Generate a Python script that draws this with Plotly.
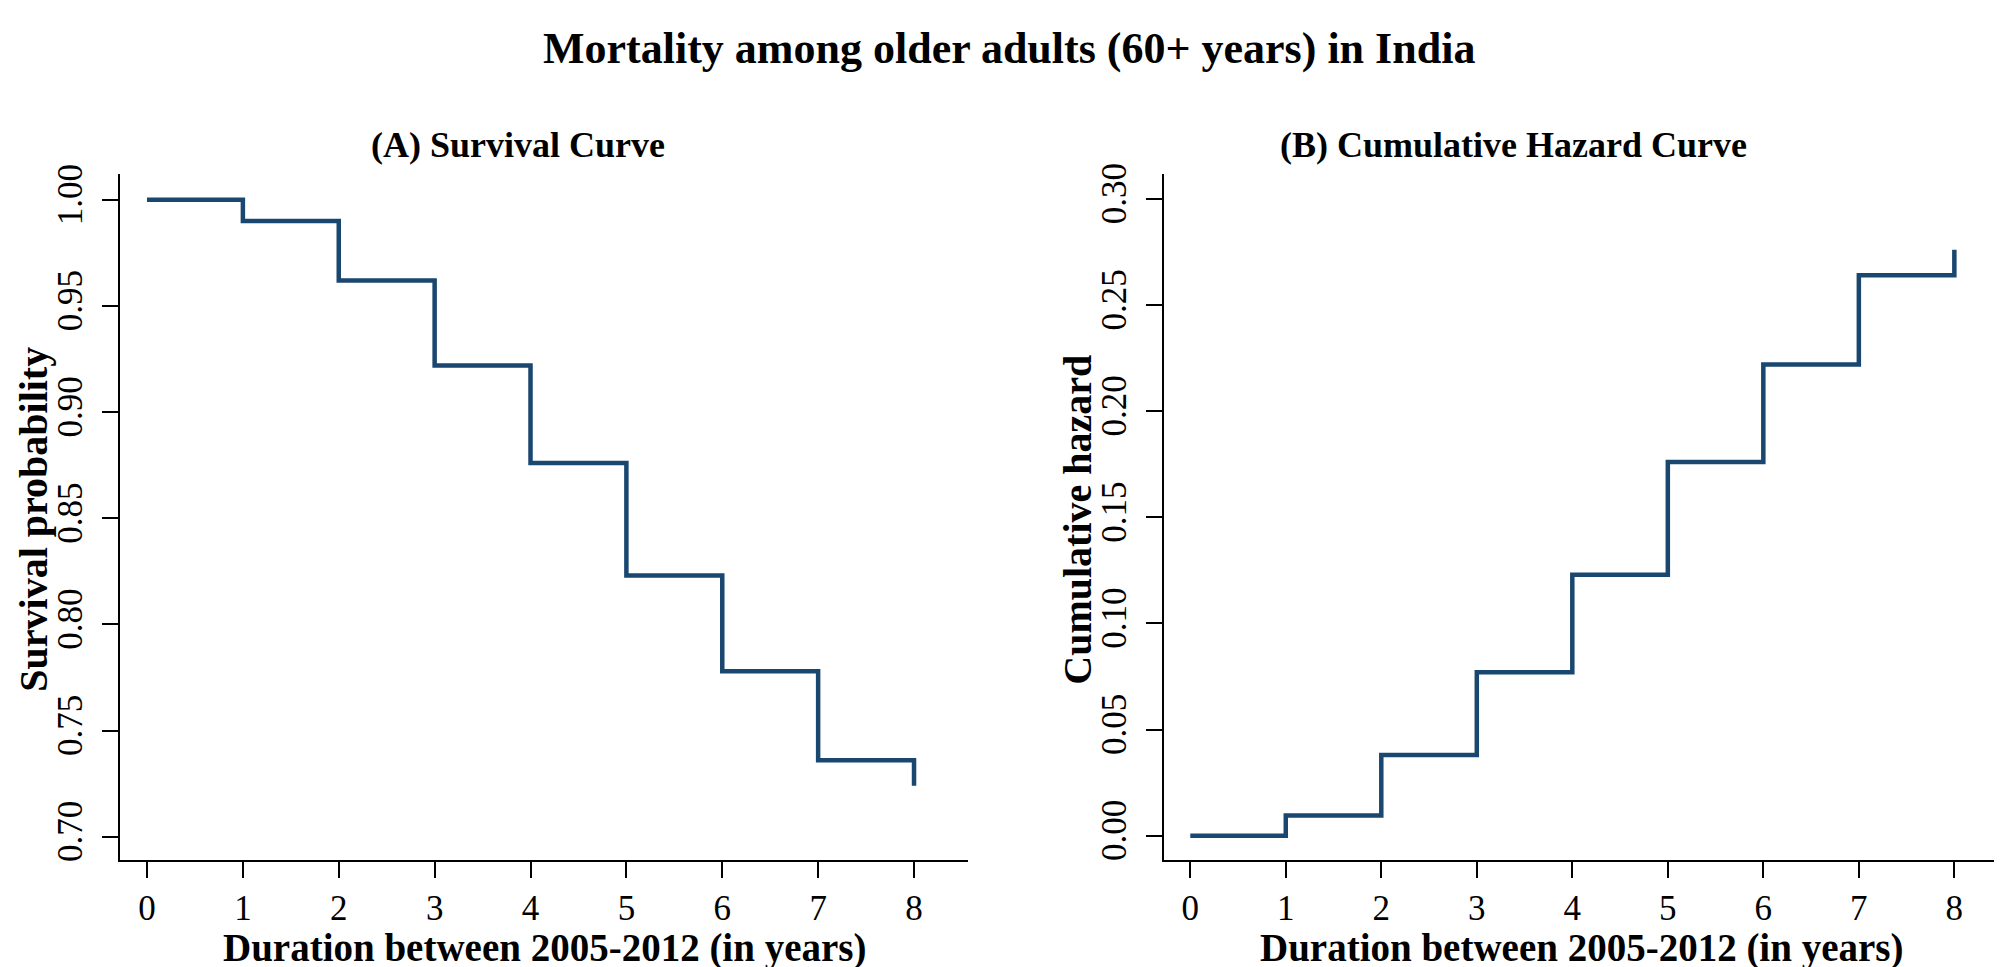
import plotly.graph_objects as go

# ---- data ----
years = [0, 1, 2, 3, 4, 5, 6, 7, 8]
survival = [1.000, 0.990, 0.962, 0.922, 0.876, 0.823, 0.778, 0.736, 0.724]
cum_hazard = [0.000, 0.0095, 0.038, 0.077, 0.123, 0.176, 0.222, 0.264, 0.276]
surv_ticks = [0.70, 0.75, 0.80, 0.85, 0.90, 0.95, 1.00]
surv_ticktext = ["0.70", "0.75", "0.80", "0.85", "0.90", "0.95", "1.00"]
haz_ticks = [0.00, 0.05, 0.10, 0.15, 0.20, 0.25, 0.30]
haz_ticktext = ["0.00", "0.05", "0.10", "0.15", "0.20", "0.25", "0.30"]
x_ticks = [0, 1, 2, 3, 4, 5, 6, 7, 8]

main_title = "Mortality among older adults (60+ years) in India"
title_a = "(A) Survival Curve"
title_b = "(B) Cumulative Hazard Curve"
x_title = "Duration between 2005-2012 (in years)"
y_title_a = "Survival probability"
y_title_b = "Cumulative hazard"

# ---- styling ----
W, H = 2002, 967
NAVY = "#1a476f"
FONT = "Liberation Serif"


def fx(p):
    return p / W


def fy(p):
    return 1 - p / H


fig = go.Figure()
fig.add_trace(go.Scatter(x=years, y=survival, mode="lines",
                         line=dict(shape="hv", color=NAVY, width=4.5),
                         xaxis="x", yaxis="y", showlegend=False, hoverinfo="x+y"))
fig.add_trace(go.Scatter(x=years, y=cum_hazard, mode="lines",
                         line=dict(shape="hv", color=NAVY, width=4.5),
                         xaxis="x2", yaxis="y2", showlegend=False, hoverinfo="x+y"))

tickfont = dict(family=FONT, size=35, color="black")
common_x = dict(tickvals=x_ticks, showline=True, linecolor="black", linewidth=2,
                ticks="outside", ticklen=16, tickwidth=2, tickcolor="black",
                showgrid=False, zeroline=False, tickfont=tickfont, fixedrange=True)
common_y = dict(showline=True, linecolor="black", linewidth=2,
                ticks="outside", ticklen=16, tickwidth=2, tickcolor="black",
                showgrid=False, zeroline=False, tickfont=tickfont, tickangle=-90,
                fixedrange=True, ticklabelstandoff=6)

y_dom = [fy(852), fy(157)]

fig.update_layout(
    width=W, height=H,
    margin=dict(l=0, r=0, t=0, b=0),
    paper_bgcolor="white", plot_bgcolor="white",
    xaxis=dict(domain=[fx(112), fx(960)], range=[-0.2816, 8.563], anchor="y", **common_x),
    yaxis=dict(domain=y_dom, range=[0.68884, 1.01214], anchor="x",
               tickvals=surv_ticks, ticktext=surv_ticktext, **common_y),
    xaxis2=dict(domain=[fx(1156), fx(1990)], range=[-0.275, 8.457], anchor="y2", **common_x),
    yaxis2=dict(domain=y_dom, range=[-0.01163, 0.3117], anchor="x2",
                tickvals=haz_ticks, ticktext=haz_ticktext, **common_y),
)

bold = dict(family=FONT, color="black", weight="bold")
ann = [
    dict(text=main_title, x=0.5, y=fy(30), font=dict(size=44, **bold)),
    dict(text=title_a, x=fx(510), y=fy(128), font=dict(size=36, **bold)),
    dict(text=title_b, x=fx(1505), y=fy(128), font=dict(size=36, **bold)),
    dict(text=x_title, x=fx(536), y=fy(941), font=dict(size=39, **bold)),
    dict(text=x_title, x=fx(1573), y=fy(941), font=dict(size=39, **bold)),
    dict(text=y_title_a, x=fx(26), y=fy(507), textangle=-90, font=dict(size=40, **bold)),
    dict(text=y_title_b, x=fx(1070), y=fy(507), textangle=-90, font=dict(size=40, **bold)),
]
for a in ann:
    a.update(xref="paper", yref="paper", showarrow=False, xanchor="center", yanchor="middle")
fig.update_layout(annotations=ann)

fig.write_html("out.html")
